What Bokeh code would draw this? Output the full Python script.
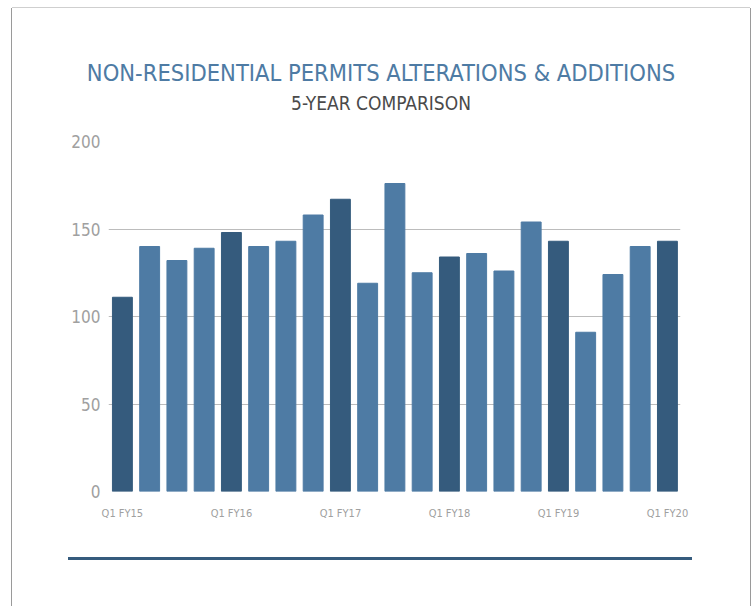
from bokeh.plotting import figure
from bokeh.models import Div, ColumnDataSource, Range1d, FixedTicker
from bokeh.layouts import column
from bokeh.embed import file_html
from bokeh.resources import INLINE

title_text = "NON-RESIDENTIAL PERMITS ALTERATIONS &amp; ADDITIONS"
subtitle_text = "5-YEAR COMPARISON"
quarters = ["Q1 FY15", "Q2 FY15", "Q3 FY15", "Q4 FY15",
            "Q1 FY16", "Q2 FY16", "Q3 FY16", "Q4 FY16",
            "Q1 FY17", "Q2 FY17", "Q3 FY17", "Q4 FY17",
            "Q1 FY18", "Q2 FY18", "Q3 FY18", "Q4 FY18",
            "Q1 FY19", "Q2 FY19", "Q3 FY19", "Q4 FY19",
            "Q1 FY20"]
permits = [111, 140, 132, 139, 148, 140, 143, 158, 167, 119, 176,
           125, 134, 136, 126, 154, 143, 91, 124, 140, 143]
y_ticks = [0, 50, 100, 150, 200]

DARK = "#355B7D"
LIGHT = "#4E7BA4"
FONT = "DejaVu Sans Condensed"

idx = list(range(len(quarters)))
colors = [DARK if q.startswith("Q1") else LIGHT for q in quarters]
src = ColumnDataSource(dict(x=idx, q=quarters, v=permits, c=colors))
q1_ticks = [i for i, q in zip(idx, quarters) if q.startswith("Q1")]

head = Div(text=(
    f'<div style="font-family:\'{FONT}\';text-align:center;width:738px;">'
    f'<div style="padding-top:51px;font-size:23.5px;line-height:28px;color:{LIGHT};'
    f'white-space:nowrap;">{title_text}</div>'
    f'<div style="margin-top:5px;font-size:19px;line-height:22px;color:#4a4a4a;'
    f'white-space:nowrap;">{subtitle_text}</div></div>'),
    width=738, height=110, margin=(0, 0, 0, 0))

p = figure(x_range=Range1d(-0.51, len(quarters) - 0.52),
           y_range=Range1d(0, 200),
           width=738, height=420, output_backend="svg", toolbar_location=None,
           title=None, min_border_left=96, min_border_right=70,
           min_border_top=23, min_border_bottom=47, margin=(0, 0, 0, 0))

p.vbar(x="x", top="v", width=0.73, color="c", source=src)

p.outline_line_color = None
p.background_fill_color = "white"
p.border_fill_color = "white"

p.xgrid.grid_line_color = None
p.ygrid.grid_line_color = "#bcbcbc"
p.ygrid.grid_line_width = 1
p.ygrid.ticker = FixedTicker(ticks=y_ticks)

p.yaxis.ticker = FixedTicker(ticks=y_ticks)
p.yaxis.axis_line_color = None
p.yaxis.major_tick_line_color = None
p.yaxis.minor_tick_line_color = None
p.yaxis.major_label_text_font = FONT
p.yaxis.major_label_text_font_size = "17px"
p.yaxis.major_label_text_color = "#a0a0a0"
p.yaxis.major_label_standoff = 2

p.xaxis.ticker = FixedTicker(ticks=q1_ticks)
p.xaxis.axis_line_color = None
p.xaxis.major_tick_line_color = None
p.xaxis.minor_tick_line_color = None
p.xaxis.major_label_text_font = FONT
p.xaxis.major_label_text_font_size = "11px"
p.xaxis.major_label_text_color = "#a0a0a0"
p.xaxis.major_label_standoff = 9
p.xaxis.major_label_overrides = {i: quarters[i] for i in q1_ticks}

sep = Div(text='<div style="margin-top:19px;margin-left:56px;width:624px;'
               'border-top:3px solid #355B7D;"></div>',
          width=738, height=68, margin=(0, 0, 0, 0))

layout = column(head, p, sep, width=738, margin=(8, 0, 0, 12),
                styles={"box-shadow": "-1px 0 0 #9a9a9a, 1px 0 0 #9a9a9a, 0 -1px 0 #cfcfcf",
                        "background-color": "white"})

open("out.html", "w").write(file_html(layout, INLINE))
